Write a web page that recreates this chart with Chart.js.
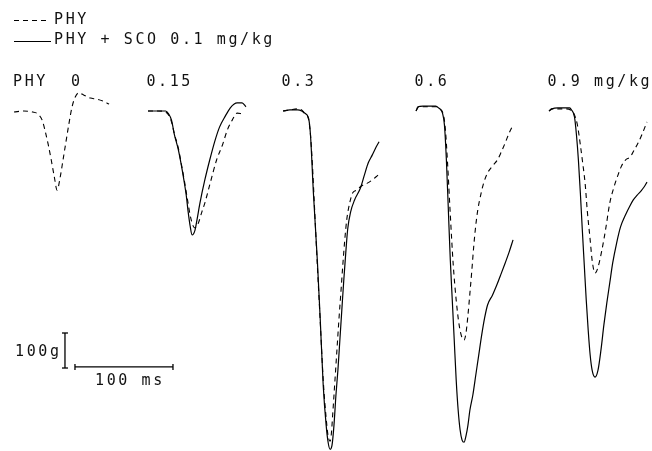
<!DOCTYPE html>
<html>
<head>
<meta charset="utf-8">
<script src="https://cdn.jsdelivr.net/npm/chart.js@4"></script>
<style>
  html, body { margin: 0; padding: 0; background: #fff; }
  #wrap { width: 652px; height: 451px; }
</style>
</head>
<body>
<div id="wrap"><canvas id="myChart" width="652" height="451"></canvas></div>
<script>
// Dose labels for each recording (mg/kg PHY)
const doseLabels = ["0", "0.15", "0.3", "0.6", "0.9 mg/kg"];

// Time (ms from record start) and force (g, relative to baseline)
// PHY alone (dashed)
const phy0Time  = [0, 10, 19, 24, 29, 32, 35, 38, 41, 44, 47, 50, 53, 56, 59, 62, 66, 71, 78, 84, 90, 97];
const phy0Force = [-6, -3, -6, -11, -31, -63, -100, -143, -189, -229, -194, -143, -91, -40, 6, 34, 49, 43, 34, 31, 26, 17];

const phy015Time  = [0, 10, 18, 21, 24, 27, 31, 34, 37, 40, 43, 46, 48, 51, 55, 58, 63, 70, 76, 81, 86, 91, 96];
const phy015Force = [-3, -3, -6, -14, -34, -69, -109, -154, -200, -251, -300, -331, -337, -326, -291, -266, -214, -143, -100, -57, -29, -9, -11];

const phy03Time  = [0, 7, 15, 19, 22, 26, 28, 30, 32, 35, 38, 41, 44, 46, 48, 49, 51, 53, 55, 57, 59, 61, 63, 65, 68, 71, 75, 80, 86, 91, 97];
const phy03Force = [-3, 0, 3, 0, -9, -26, -71, -157, -271, -443, -606, -771, -880, -931, -946, -934, -857, -771, -686, -600, -523, -443, -371, -314, -266, -237, -229, -217, -209, -200, -186];

const phy06Time  = [0, 3, 8, 16, 21, 24, 28, 30, 32, 35, 38, 41, 44, 47, 49, 51, 53, 55, 57, 59, 61, 63, 66, 69, 73, 79, 83, 87, 91, 95, 99];
const phy06Force = [-3, 9, 9, 9, 9, 3, -14, -57, -143, -300, -443, -543, -614, -651, -657, -637, -586, -523, -457, -386, -329, -286, -243, -209, -180, -157, -143, -120, -94, -66, -43];

const phy09Time  = [0, 3, 9, 17, 22, 26, 29, 32, 34, 37, 39, 42, 44, 47, 50, 54, 58, 62, 66, 70, 74, 78, 83, 87, 91, 95, 100];
const phy09Force = [-3, 3, 3, 3, 0, -14, -43, -100, -143, -214, -286, -371, -429, -466, -449, -400, -337, -266, -223, -189, -160, -143, -134, -114, -94, -69, -34];

// PHY + SCO 0.1 mg/kg (solid)
const sco015Time  = [0, 10, 18, 21, 24, 27, 31, 34, 37, 39, 41, 43, 45, 48, 50, 53, 58, 63, 68, 73, 79, 84, 88, 91, 96, 100];
const sco015Force = [-3, -3, -3, -11, -29, -71, -114, -157, -206, -243, -291, -331, -357, -343, -314, -266, -200, -143, -91, -49, -17, 6, 17, 20, 20, 9];

const sco03Time  = [0, 7, 15, 19, 22, 26, 28, 31, 35, 38, 41, 44, 46, 48, 50, 52, 54, 56, 58, 60, 62, 64, 66, 69, 73, 79, 83, 87, 91, 95, 98];
const sco03Force = [-3, 0, 0, -3, -9, -23, -71, -237, -429, -600, -786, -900, -949, -969, -957, -900, -814, -743, -657, -571, -486, -409, -340, -291, -257, -223, -186, -151, -129, -106, -91];

const sco06Time  = [0, 2, 7, 14, 20, 23, 27, 29, 31, 33, 35, 37, 39, 41, 43, 45, 47, 49, 51, 53, 55, 58, 61, 64, 67, 70, 73, 78, 82, 86, 91, 95, 99];
const sco06Force = [-3, 9, 11, 11, 11, 6, -9, -43, -143, -286, -429, -543, -657, -771, -857, -914, -943, -949, -931, -900, -857, -814, -757, -700, -643, -594, -557, -529, -503, -474, -437, -406, -371];

const sco09Time  = [0, 3, 9, 16, 21, 23, 26, 28, 30, 32, 34, 36, 38, 40, 42, 44, 47, 50, 53, 56, 59, 62, 65, 69, 73, 78, 82, 86, 90, 94, 97, 100];
const sco09Force = [-3, 3, 6, 6, 6, 0, -20, -71, -143, -237, -343, -443, -543, -629, -700, -743, -763, -743, -686, -614, -551, -494, -437, -380, -334, -300, -277, -257, -243, -231, -220, -206];

// Calibration bars
const calForce = 100; // g
const calTime = 100;  // ms

// Layout: where each record starts on the common time axis (ms), and axis ranges
const recordStart = [14.3, 151.0, 288.8, 424.5, 560.2];
const xRange = [0, 665.3];
const yRange = [-974, 314];
const calPos = { vx: 66.3, vTop: -637, hx: 76.5, hy: -734 };

function toPoints(times, forces, start) {
    return times.map((t, i) => ({ x: start + t, y: forces[i] }));
}

const dashedStyle = { borderColor: "#000", borderWidth: 1.1, borderDash: [5, 4], pointRadius: 0, showLine: true, cubicInterpolationMode: "monotone", fill: false };
const solidStyle = { borderColor: "#000", borderWidth: 1.2, pointRadius: 0, showLine: true, cubicInterpolationMode: "monotone", fill: false };

const phyRecords = [[phy0Time, phy0Force], [phy015Time, phy015Force], [phy03Time, phy03Force], [phy06Time, phy06Force], [phy09Time, phy09Force]];
const scoRecords = [null, [sco015Time, sco015Force], [sco03Time, sco03Force], [sco06Time, sco06Force], [sco09Time, sco09Force]];

const datasets = [];
phyRecords.forEach((rec, i) => {
    datasets.push(Object.assign({ label: "PHY " + doseLabels[i], data: toPoints(rec[0], rec[1], recordStart[i]) }, dashedStyle));
});
scoRecords.forEach((rec, i) => {
    if (!rec) return;
    datasets.push(Object.assign({ label: "PHY + SCO " + doseLabels[i], data: toPoints(rec[0], rec[1], recordStart[i]) }, solidStyle));
});

// Calibration bars with small end caps
datasets.push({
    label: "100g",
    data: [{ x: calPos.vx, y: calPos.vTop }, { x: calPos.vx, y: calPos.vTop - calForce }],
    borderColor: "#000", borderWidth: 1.3, showLine: true,
    pointStyle: "line", pointRadius: 3, pointBorderColor: "#000", pointBorderWidth: 1.3
});
datasets.push({
    label: "100 ms",
    data: [{ x: calPos.hx, y: calPos.hy }, { x: calPos.hx + calTime, y: calPos.hy }],
    borderColor: "#000", borderWidth: 1.3, showLine: true,
    pointStyle: "line", pointRotation: 90, pointRadius: 3, pointBorderColor: "#000", pointBorderWidth: 1.3
});

// Draws the text labels and the legend samples
const labelPlugin = {
    id: "labels",
    afterDraw(chart) {
        const ctx = chart.ctx;
        const xs = chart.scales.x;
        ctx.save();
        ctx.fillStyle = "#111";
        ctx.font = '15px "DejaVu Sans Mono"';
        ctx.letterSpacing = "2.6px";
        ctx.textBaseline = "alphabetic";

        // legend
        ctx.strokeStyle = "#000";
        ctx.lineWidth = 1.1;
        ctx.setLineDash([5, 4]);
        ctx.beginPath(); ctx.moveTo(14, 20.5); ctx.lineTo(50, 20.5); ctx.stroke();
        ctx.setLineDash([]);
        ctx.beginPath(); ctx.moveTo(14, 41.5); ctx.lineTo(51, 41.5); ctx.stroke();
        ctx.fillText("PHY", 54, 24);
        ctx.fillText("PHY + SCO 0.1 mg/kg", 54, 44);

        // record labels
        ctx.fillText("PHY", 13, 86);
        doseLabels.forEach((d, i) => {
            const x = i === 0 ? 71 : xs.getPixelForValue(recordStart[i]) - 1.5;
            ctx.fillText(d, x, 86);
        });

        // calibration labels
        ctx.fillText("100g", 15, 356);
        ctx.fillText("100 ms", 95, 385);
        ctx.restore();
    }
};

const ctx = document.querySelector("#myChart");
new Chart(ctx, {
    type: "scatter",
    data: { datasets: datasets },
    options: {
        responsive: false,
        animation: false,
        layout: { padding: 0, autoPadding: false },
        plugins: { legend: { display: false }, tooltip: { enabled: false } },
        scales: {
            x: { type: "linear", min: xRange[0], max: xRange[1], display: false },
            y: { type: "linear", min: yRange[0], max: yRange[1], display: false }
        }
    },
    plugins: [labelPlugin]
});
</script>
</body>
</html>
